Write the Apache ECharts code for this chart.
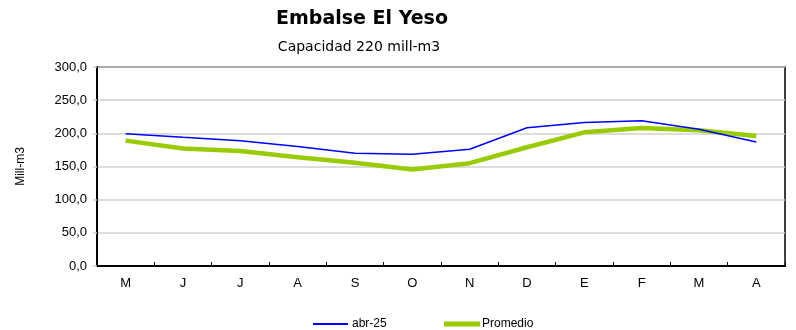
<!DOCTYPE html>
<html>
<head>
<meta charset="utf-8">
<script src="https://cdn.jsdelivr.net/npm/echarts@6/dist/echarts.min.js"></script>
<style>
  html, body { margin: 0; padding: 0; background: #fff; }
  #chart { width: 796px; height: 330px; }
</style>
</head>
<body>
<div id="chart"></div>
<script>
// Months from May to April
const months = ['M', 'J', 'J', 'A', 'S', 'O', 'N', 'D', 'E', 'F', 'M', 'A'];
// Stored volume, current year (mill-m3)
const abr25 = [199.5, 194, 189, 180, 170, 168.5, 176, 208.5, 216.5, 219, 206, 187];
// Historical average (mill-m3)
const promedio = [189, 177, 173.5, 164, 155.5, 145.5, 155, 179, 201.5, 208, 204.5, 196];
const yTicks = { min: 0, max: 300, interval: 50 };

const chart = echarts.init(document.getElementById('chart'), null, { renderer: 'canvas' });
const fontFam = '"Liberation Sans", Arial, sans-serif';

chart.setOption({
  animation: false,
  backgroundColor: '#ffffff',
  title: [
    {
      text: 'Embalse El Yeso',
      left: 357, top: 5, textAlign: 'center',
      textStyle: { fontFamily: '"DejaVu Sans", Verdana, sans-serif', fontWeight: 'bold', fontSize: 19, color: '#000' }
    },
    {
      text: 'Capacidad 220 mill-m3',
      left: 354, top: 35, textAlign: 'center',
      textStyle: { fontFamily: '"DejaVu Sans", Verdana, sans-serif', fontWeight: 'normal', fontSize: 14, color: '#000' }
    }
  ],
  legend: [
    {
      data: [{ name: 'abr-25' }],
      left: 313, top: 318, padding: 0,
      itemWidth: 35, itemHeight: 2, itemGap: 4,
      icon: 'rect',
      textStyle: { fontFamily: fontFam, fontSize: 12, color: '#000', padding: [0, 0, 0, -1] }
    },
    {
      data: [{ name: 'Promedio' }],
      left: 444, top: 318, padding: 0,
      itemWidth: 36, itemHeight: 5, itemGap: 4,
      icon: 'rect',
      textStyle: { fontFamily: fontFam, fontSize: 12, color: '#000', padding: [0, 0, 0, -3] }
    }
  ],
  grid: {
    left: 97, right: 11, top: 67, bottom: 64,
    show: true, borderColor: '#000', borderWidth: 1.5, backgroundColor: 'transparent'
  },
  xAxis: {
    type: 'category',
    data: months,
    boundaryGap: true,
    axisLine: { lineStyle: { color: '#000', width: 2 } },
    axisTick: { show: true, inside: true, length: 4, lineStyle: { color: '#000', width: 1 } },
    axisLabel: { fontFamily: fontFam, fontSize: 13, color: '#000', margin: 11 },
    splitLine: { show: false }
  },
  yAxis: {
    type: 'value',
    min: yTicks.min, max: yTicks.max, interval: yTicks.interval,
    name: 'Mill-m3',
    nameLocation: 'middle',
    nameGap: 70,
    nameRotate: 90,
    nameTextStyle: { fontFamily: fontFam, fontSize: 12, color: '#000' },
    axisLine: { show: true, lineStyle: { color: '#000', width: 2 } },
    axisTick: { show: true, length: 4, lineStyle: { color: '#d0d0d0', width: 1.5 } },
    axisLabel: {
      fontFamily: fontFam, fontSize: 13, color: '#000', margin: 10,
      formatter: v => v.toFixed(1).replace('.', ',')
    },
    splitLine: { show: true, lineStyle: { color: '#d0d0d0', width: 1.5 } }
  },
  series: [
    {
      name: 'abr-25',
      type: 'line',
      data: abr25,
      symbol: 'none',
      color: '#0000ff',
      lineStyle: { color: '#0000ff', width: 1.5 },
      z: 3
    },
    {
      name: 'Promedio',
      type: 'line',
      data: promedio,
      symbol: 'none',
      color: '#99cc00',
      lineStyle: { color: '#99cc00', width: 4.5 },
      z: 2
    }
  ]
});
</script>
</body>
</html>
